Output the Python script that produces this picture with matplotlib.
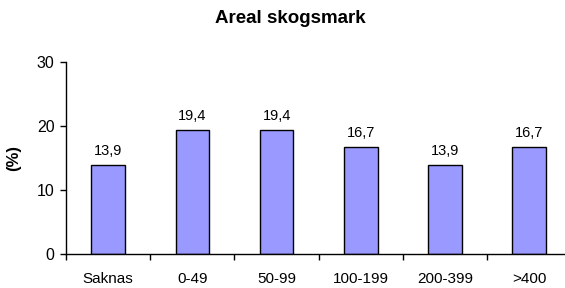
import numpy as np
from matplotlib import pyplot as plt

categories = ['Saknas', '0-49', '50-99', '100-199', '200-399', '>400']
values = [13.9, 19.4, 19.4, 16.7, 13.9, 16.7]
labels = ['13,9', '19,4', '19,4', '16,7', '13,9', '16,7']

plt.rcParams['font.family'] = ['Liberation Sans', 'DejaVu Sans']

fig = plt.figure(figsize=(5.65, 2.88), dpi=100)
ax = fig.add_axes([0.117, 0.118, 0.894, 0.665])

x = np.arange(len(categories))
ax.bar(x, values, width=0.4, color='#9999FF', edgecolor='black', linewidth=1)
for xi, v, lab in zip(x, values, labels):
    ax.text(xi, v + 1.1, lab, ha='center', va='bottom', fontsize=10.5)

ax.set_xlim(-0.5, len(categories) - 0.5)
ax.set_ylim(0, 30)
ax.set_yticks([0, 10, 20, 30])
ax.set_xticks(x)
ax.set_xticklabels(categories)
ax.set_xticks(np.arange(len(categories) + 1) - 0.5, minor=True)
ax.tick_params(axis='x', which='major', length=0, labelsize=11, pad=13)
ax.tick_params(axis='x', which='minor', length=4, width=1, direction='out')
ax.tick_params(axis='y', length=4.3, width=1, labelsize=11.5, pad=4, direction='out')

for s in ['top', 'right']:
    ax.spines[s].set_visible(False)
for s in ['left', 'bottom']:
    ax.spines[s].set_linewidth(1)

ax.set_ylabel('(%)', fontsize=12, fontweight='bold')
ax.yaxis.set_label_coords(-0.089, 0.5)
fig.text(0.513, 0.937, 'Areal skogsmark', ha='center', va='center',
         fontsize=13.5, fontweight='bold')

fig.savefig('out.png', dpi=100)
